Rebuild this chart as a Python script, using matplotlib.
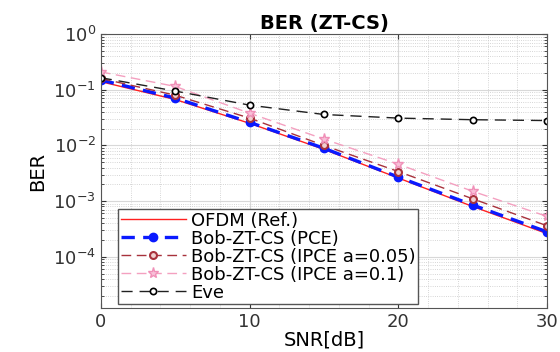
import matplotlib.pyplot as plt
import numpy as np

plt.rcParams['font.family'] = ['DejaVu Sans']
plt.rcParams['mathtext.fontset'] = 'dejavusans'

# data
snr = [0, 5, 10, 15, 20, 25, 30]
ber_ofdm = [0.14, 0.067, 0.025, 0.0085, 0.0026, 0.00080, 0.00026]
ber_pce = [0.15, 0.071, 0.026, 0.0089, 0.0027, 0.00085, 0.00028]
ber_ipce_005 = [0.16, 0.080, 0.031, 0.010, 0.0034, 0.0011, 0.00036]
ber_ipce_01 = [0.21, 0.115, 0.038, 0.013, 0.0046, 0.0015, 0.00053]
ber_eve = [0.165, 0.095, 0.053, 0.036, 0.031, 0.029, 0.028]

xticks = [0, 10, 20, 30]
yticks = [1e-4, 1e-3, 1e-2, 1e-1, 1e0]

fig = plt.figure(figsize=(5.6, 3.52), dpi=100)
ax = fig.add_axes([0.18, 0.125, 0.797, 0.778])

ax.plot(snr, ber_ofdm, '-', color='#ff2020', lw=1.0, label='OFDM (Ref.)')
ax.plot(snr, ber_pce, '--', color='#0a1aff', lw=2.4, marker='o', ms=6,
        mfc='#0a1aff', mec='#0a1aff', dashes=(4, 2.5), label='Bob-ZT-CS (PCE)')
ax.plot(snr, ber_ipce_005, '--', color='#a8323c', lw=1.0, marker='o', ms=5,
        mfc='#f0d0d0', mec='#a8323c', mew=1.5, dashes=(7, 4),
        label='Bob-ZT-CS (IPCE a=0.05)')
ax.plot(snr, ber_ipce_01, '--', color='#f4a0c0', lw=1.0, marker='*', ms=8,
        mfc='#f8c0d8', mec='#f090b8', dashes=(7, 4),
        label='Bob-ZT-CS (IPCE a=0.1)')
ax.plot(snr, ber_eve, '--', color='#202020', lw=1.0, marker='o', ms=4.5,
        mfc='white', mec='black', mew=1.2, dashes=(8, 5), label='Eve')

ax.set_yscale('log')
ax.set_xlim(0, 30)
ax.set_ylim(1.2e-5, 1)
ax.set_xticks(xticks)
ax.set_yticks(yticks)
ax.set_yticklabels(['$10^{-4}$', '$10^{-3}$', '$10^{-2}$', '$10^{-1}$', '$10^{0}$'])

ax.grid(which='major', color='#d8d8d8', lw=0.8, ls='-')
ax.grid(which='minor', color='#c8c8c8', lw=0.6, ls=':')
ax.minorticks_on()
ax.tick_params(which='both', direction='in', top=True, right=True,
               labelsize=13, colors='#333333')
ax.tick_params(axis='x', which='minor', bottom=False, top=False)
for s in ax.spines.values():
    s.set_color('#555555')

ax.set_xlabel('SNR[dB]', fontsize=14, labelpad=0)
ax.set_ylabel('BER', fontsize=14)
ax.set_title('BER (ZT-CS)', fontsize=14, fontweight='bold', pad=4)

leg = ax.legend(loc='lower left', bbox_to_anchor=(0.03, 0.0), fontsize=13,
                fancybox=False, framealpha=1, edgecolor='#555555',
                borderpad=0.15, labelspacing=0.0, handlelength=3.6,
                handletextpad=0.3, borderaxespad=0.2)
leg.get_frame().set_linewidth(1.0)

fig.savefig('out.png', dpi=100)
